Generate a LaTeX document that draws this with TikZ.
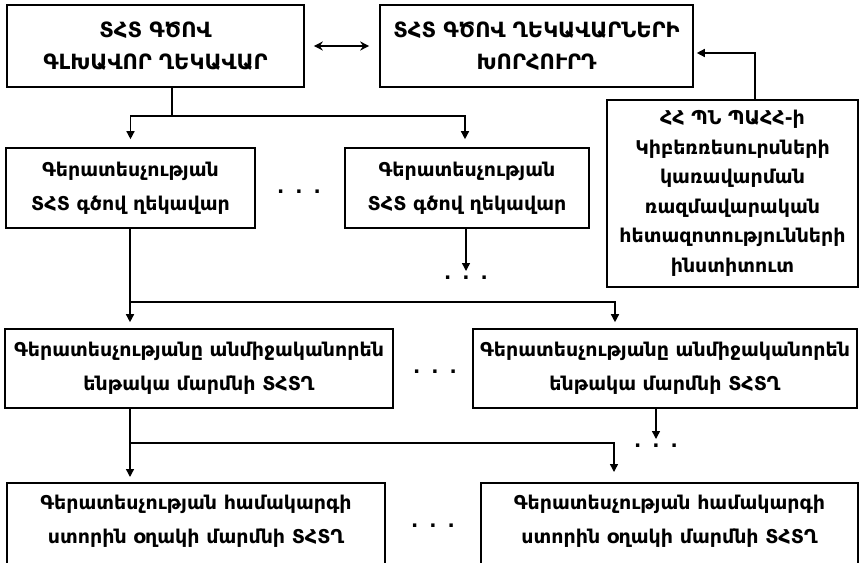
\documentclass[tikz,border=0pt]{standalone}
\usepackage{fontspec}
\setmainfont{DejaVu Sans}
\usetikzlibrary{positioning,arrows.meta}
\newcommand{\ict}{ՏՀՏ}
\newcommand{\etc}{.\hspace{11pt}.\hspace{11pt}.}

\tikzset{
    box/.style={draw, line width=1.6pt, align=center, inner sep=0pt,
        font=\bfseries\fontsize{19}{34}\selectfont},
    capsbox/.style={box, font=\bfseries\fontsize{21}{32}\selectfont},
    etcnode/.style={inner sep=0pt, font=\bfseries\fontsize{19}{34}\selectfont},
    link/.style={line width=1.4pt, -{Triangle[length=8pt,width=8pt]}},
    both/.style={line width=1.4pt, {Stealth[length=9pt,width=9pt]}-{Stealth[length=9pt,width=9pt]}},
}

\begin{document}
\begin{tikzpicture}[x=1pt,y=-1pt]
            \useasboundingbox (0,0) rectangle (859,562);
            % top row
            \node[capsbox, minimum width=297, minimum height=82] (m1) at (155.5,46) {\ict{} ԳԾՈՎ\\ԳԼԽԱՎՈՐ ՂԵԿԱՎԱՐ};
            \node[capsbox, minimum width=313, minimum height=82] (c1) at (536.5,46) {\ict{} ԳԾՈՎ ՂԵԿԱՎԱՐՆԵՐԻ\\ԽՈՐՀՈՒՐԴ};
            \node[box, minimum width=251, minimum height=187, font=\bfseries\fontsize{19}{29.5}\selectfont] (r1) at (732.5,193.5)
                {ՀՀ ՊՆ ՊԱՀՀ-ի\\Կիբեռռեսուրսների\\կառավարման\\ռազմավարական\\հետազոտությունների\\ինստիտուտ};
            % second row
            \node[box, minimum width=249, minimum height=80] (d1) at (130.5,188) {Գերատեսչության\\\ict{} գծով ղեկավար};
            \node[box, minimum width=244, minimum height=80] (d2) at (467,188) {Գերատեսչության\\\ict{} գծով ղեկավար};
            \node[etcnode] (dd1) at (299,192) {\etc};
            \node[etcnode] (dd2) at (466,278) {\etc};
            % third row
            \node[box, minimum width=388, minimum height=79] (e1) at (199,368.5) {Գերատեսչությանը անմիջականորեն\\ենթակա մարմնի \ict{}Ղ};
            \node[box, minimum width=384, minimum height=79] (e2) at (665,368.5) {Գերատեսչությանը անմիջականորեն\\ենթակա մարմնի \ict{}Ղ};
            \node[etcnode] (ee1) at (435,372) {\etc};
            \node[etcnode] (ee2) at (656,446) {\etc};
            % bottom row
            \node[box, minimum width=378, anchor=north, inner ysep=12pt, text depth=50pt] (f1) at (196,482) {Գերատեսչության համակարգի\\ստորին օղակի մարմնի \ict{}Ղ};
            \node[box, minimum width=377, anchor=north, inner ysep=12pt, text depth=50pt] (f2) at (669.5,482) {Գերատեսչության համակարգի\\ստորին օղակի մարմնի \ict{}Ղ};
            \node[etcnode] (ff1) at (433,526) {\etc};

            \coordinate (j1) at (172,116);
            \coordinate (j2) at (130,302);
            \coordinate (j3) at (615,302);
            \coordinate (j4) at (130,443);
            \coordinate (j5) at (614,443);
            \coordinate (k1) at (755,53);

            \draw[both, shorten <=9pt, shorten >=10pt] (m1) -- (c1);
            \draw[link, shorten >=3pt] (r1.north -| k1) -- (k1) -- (c1.east |- k1);
            \draw[line width=1.4pt] (m1.south -| j1) -- (j1);
            \draw[link, shorten >=8pt] (j1) -| (d1.north);
            \draw[link, shorten >=8pt] (j1) -| (d2.north -| 465,0);
            \draw[link, shorten >=5pt] (d2.south -| dd2) -- (dd2.north);
            \draw[link, shorten >=6pt] (d1.south -| j2) -- (e1.north -| j2);
            \draw[link, shorten >=6pt] (j2) -- (j3) -- (e2.north -| j3);
            \draw[link, shorten >=5pt] (e2.south -| 656,0) -- (ee2.north);
            \draw[link, shorten >=5pt] (e1.south -| j4) -- (f1.north -| j4);
            \draw[link, shorten >=10pt] (j4) -- (j5) -- (f2.north -| j5);
\end{tikzpicture}
\end{document}
